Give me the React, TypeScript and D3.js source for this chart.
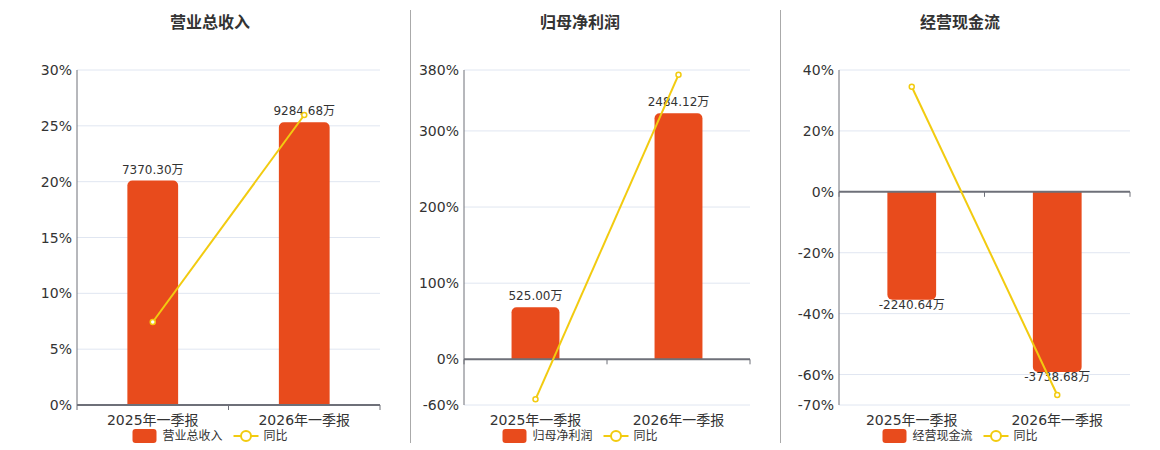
import React from 'react';
import * as d3 from 'd3';

const categories = ['2025年一季报', '2026年一季报'];
const titles = ['营业总收入', '归母净利润', '经营现金流'];
const legendNames = ['营业总收入', '归母净利润', '经营现金流'];
const lineName = '同比';

const revenueValues = [7370.30, 9284.68];
const revenueYoY = [7.43, 25.97];
const profitValues = [525.00, 2484.12];
const profitYoY = [-52.6, 373.6];
const cashValues = [-2240.64, -3738.68];
const cashYoY = [34.5, -66.7];

const revenueTicks = [0, 5, 10, 15, 20, 25, 30];
const profitTicks = [-60, 0, 100, 200, 300, 380];
const cashTicks = [-70, -60, -40, -20, 0, 20, 40];

const revenueBarDomain = [0, 11000];
const profitBarDomain = [-461, 2920];
const cashBarDomain = [-4424, 2528];

const BAR_COLOR = '#E84B1C';
const LINE_COLOR = '#F2CB10';
const TEXT = '#333';
const AXIS = '#6E7079';
const GRID = '#E0E6F1';
const FONT = "'DejaVu Sans', 'Noto Sans CJK SC', sans-serif";

type PanelProps = {
  title: string;
  legend: string;
  values: number[];
  yoy: number[];
  ticks: number[];
  barDomain: number[];
  left: number;
  right: number;
  center: number;
};

const TOP = 70;
const BOTTOM = 405;

function roundedBar(x: number, w: number, y0: number, y1: number, r: number) {
  // y0 baseline, y1 end; round the far end
  const p = d3.path();
  if (y1 < y0) {
    const rr = Math.min(r, (y0 - y1) / 2, w / 2);
    p.moveTo(x, y0);
    p.lineTo(x, y1 + rr);
    p.arcTo(x, y1, x + rr, y1, rr);
    p.lineTo(x + w - rr, y1);
    p.arcTo(x + w, y1, x + w, y1 + rr, rr);
    p.lineTo(x + w, y0);
    p.closePath();
  } else {
    const rr = Math.min(r, (y1 - y0) / 2, w / 2);
    p.moveTo(x, y0);
    p.lineTo(x, y1 - rr);
    p.arcTo(x, y1, x + rr, y1, rr);
    p.lineTo(x + w - rr, y1);
    p.arcTo(x + w, y1, x + w, y1 - rr, rr);
    p.lineTo(x + w, y0);
    p.closePath();
  }
  return p.toString();
}

function Panel({ title, legend, values, yoy, ticks, barDomain, left, right, center }: PanelProps) {
  const x = d3.scaleBand<string>().domain(categories).range([left, right]).paddingInner(0).paddingOuter(0);
  const yPct = d3.scaleLinear().domain([d3.min(ticks)!, d3.max(ticks)!]).range([BOTTOM, TOP]);
  const yBar = d3.scaleLinear().domain(barDomain).range([BOTTOM, TOP]);
  const zeroY = yPct(Math.max(0, d3.min(ticks)!));
  const bw = x.bandwidth() * 0.335;
  const line = d3
    .line<number>()
    .x((_, i) => x(categories[i])! + x.bandwidth() / 2)
    .y((d) => yPct(d));

  const legendWidth = 24 + 6 + legend.length * 12 + 11 + 25 + 5 + lineName.length * 12;
  const lx = center - legendWidth / 2;
  const ly = 436;

  return (
    <g>
      <text x={center} y={22} textAnchor="middle" dominantBaseline="central" fontSize={16} fontWeight="bold" fill={TEXT} fontFamily={FONT}>
        {title}
      </text>
      {ticks.map((t) => (
        <g key={t}>
          {t !== 0 || d3.min(ticks)! === 0 ? (
            <line x1={left} x2={right} y1={yPct(t)} y2={yPct(t)} stroke={GRID} strokeWidth={1} />
          ) : null}
          <text x={left - 5} y={yPct(t)} textAnchor="end" dominantBaseline="central" fontSize={14} fill={TEXT} fontFamily={FONT}>
            {t}%
          </text>
        </g>
      ))}
      <line x1={left} x2={left} y1={TOP} y2={BOTTOM} stroke={AXIS} strokeWidth={1} />
      {values.map((v, i) => {
        const bx = x(categories[i])! + (x.bandwidth() - bw) / 2;
        const y0 = yBar(0);
        const y1 = yBar(v);
        const labelY = v >= 0 ? y1 - 11 : y1 + 5;
        return (
          <g key={i}>
            <path d={roundedBar(bx, bw, y0, y1, 5)} fill={BAR_COLOR} />
            <text x={bx + bw / 2} y={labelY} textAnchor="middle" dominantBaseline="central" fontSize={12} fill={TEXT} fontFamily={FONT}>
              {v.toFixed(2)}万
            </text>
          </g>
        );
      })}
      <line x1={left} x2={right} y1={zeroY} y2={zeroY} stroke={AXIS} strokeWidth={2} />
      {[...categories.map((c) => x(c)!), right].map((tx, i) => (
        <line key={i} x1={tx} x2={tx} y1={zeroY} y2={zeroY + 5} stroke={AXIS} strokeWidth={1} />
      ))}
      {categories.map((c) => (
        <text key={c} x={x(c)! + x.bandwidth() / 2} y={420} textAnchor="middle" dominantBaseline="central" fontSize={14} fill={TEXT} fontFamily={FONT}>
          {c}
        </text>
      ))}
      <path d={line(yoy)!} fill="none" stroke={LINE_COLOR} strokeWidth={2} />
      {yoy.map((v, i) => (
        <circle key={i} cx={x(categories[i])! + x.bandwidth() / 2} cy={yPct(v)} r={2.5} fill="#fff" stroke={LINE_COLOR} strokeWidth={1.5} />
      ))}
      <g>
        <rect x={lx} y={ly - 7} width={24} height={14} rx={3} fill={BAR_COLOR} />
        <text x={lx + 30} y={ly} dominantBaseline="central" fontSize={12} fill={TEXT} fontFamily={FONT}>
          {legend}
        </text>
        <line x1={lx + 30 + legend.length * 12 + 11} x2={lx + 30 + legend.length * 12 + 36} y1={ly} y2={ly} stroke={LINE_COLOR} strokeWidth={2} />
        <circle cx={lx + 30 + legend.length * 12 + 23.5} cy={ly} r={5} fill="#fff" stroke={LINE_COLOR} strokeWidth={2} />
        <text x={lx + 30 + legend.length * 12 + 41} y={ly} dominantBaseline="central" fontSize={12} fill={TEXT} fontFamily={FONT}>
          {lineName}
        </text>
      </g>
    </g>
  );
}

export default function App() {
  return (
    <svg width={1160} height={450} style={{ position: 'absolute', left: 0, top: 0, background: '#fff' }}>
      <Panel title={titles[0]} legend={legendNames[0]} values={revenueValues} yoy={revenueYoY} ticks={revenueTicks} barDomain={revenueBarDomain} left={77} right={380} center={210} />
      <Panel title={titles[1]} legend={legendNames[1]} values={profitValues} yoy={profitYoY} ticks={profitTicks} barDomain={profitBarDomain} left={464} right={750} center={580} />
      <Panel title={titles[2]} legend={legendNames[2]} values={cashValues} yoy={cashYoY} ticks={cashTicks} barDomain={cashBarDomain} left={839} right={1130} center={960} />
      <line x1={410.5} x2={410.5} y1={10} y2={443} stroke="#AAA" strokeWidth={1} />
      <line x1={780.5} x2={780.5} y1={10} y2={443} stroke="#AAA" strokeWidth={1} />
    </svg>
  );
}
